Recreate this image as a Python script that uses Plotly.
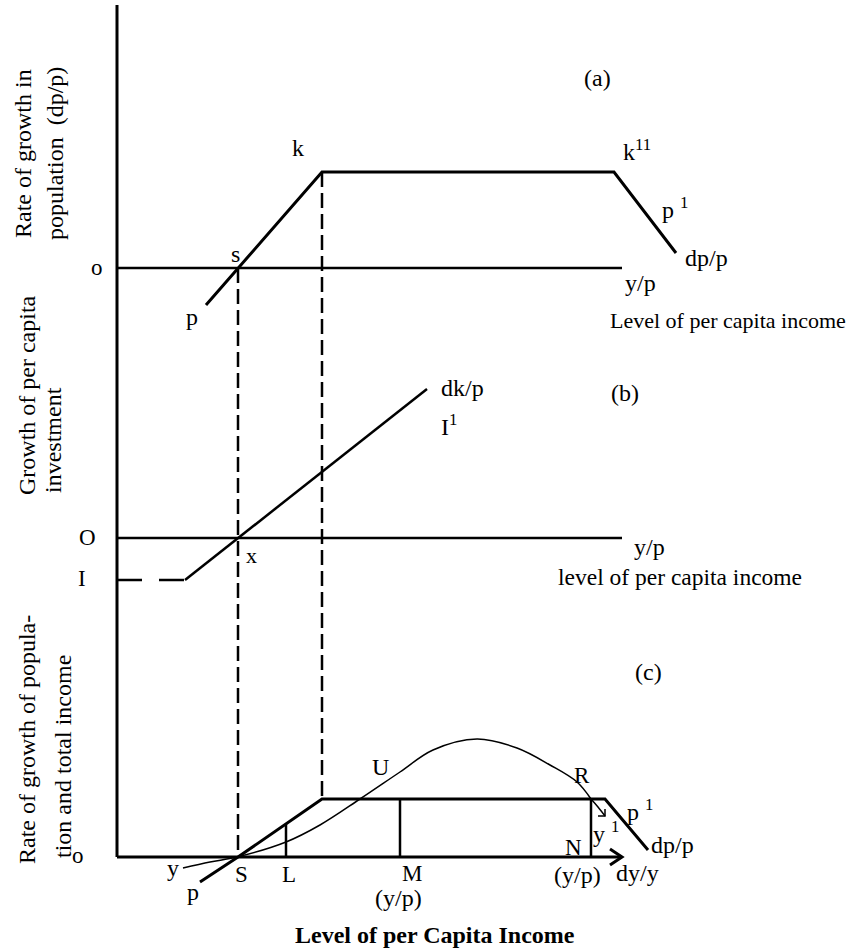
import plotly.graph_objects as go

# ---- diagram values (income on x, growth rates on y; each panel has its own zero line) ----
axis_top = 852            # top of the common vertical axis
axis_len = 505            # length of each panel's income axis
base_a, base_b, base_c = 589, 319, 0   # zero lines of panels (a), (b), (c)

# (a) rate of growth in population dp/p
pop_x = [89, 121, 205, 497, 559]
pop_y = [-37, 0, 96, 96, 15]

# (b) growth of per capita investment dk/p
inv_floor_x = [0, 68]
inv_floor_y = [-42, -42]
inv_x = [68, 121, 310]
inv_y = [-42, 0, 149]

# (c) population growth and total income growth
popc_x = [83, 121, 205, 488, 531]
popc_y = [-25, 0, 58, 58, 7]
inc_x = [66, 93, 120, 169, 203, 243, 283, 316, 360, 400, 433, 460, 474]
inc_y = [-11, -5, 0, 15, 32, 58, 85, 107, 118, 109, 92, 75, 58]
inc_tail_x = [474, 481, 488]
inc_tail_y = [58, 50, 41]
inc_head_x = [481, 488, 488]
inc_head_y = [41, 41, 48]
arrow_x = [493, 505, 493]
arrow_y = [8, 0, -8]

# income levels marked in the diagram
x_S, x_k, x_L, x_M, x_N = 121, 205, 169, 283, 474
plateau_c = 58
plateau_a = 96

FONT = "Liberation Serif"
INK = "black"

fig = go.Figure()


def seg(xs, ys, width=3, dash=None, shape="linear"):
    fig.add_trace(go.Scatter(
        x=xs, y=ys, mode="lines", hoverinfo="skip", showlegend=False,
        line=dict(color=INK, width=width, dash=dash, shape=shape,
                  smoothing=1.0 if shape == "spline" else None),
    ))


# common vertical axis
seg([0, 0], [base_c, axis_top], width=3)

# panel axes
seg([0, axis_len], [base_a, base_a], width=2.5)
seg([0, axis_len], [base_b, base_b], width=2.5)
seg([0, axis_len], [base_c, base_c], width=3)
seg(arrow_x, arrow_y, width=3)

# dashed guides from s and k down through the panels
seg([x_S, x_S], [base_a, base_c], width=2.5, dash="15px,6px")
seg([x_k, x_k], [base_a + plateau_a, base_c + plateau_c], width=2.5, dash="15px,6px")

# (a) dp/p curve
seg(pop_x, [base_a + v for v in pop_y], width=3)

# (b) dk/p line with its dashed floor I
seg(inv_floor_x, [base_b + v for v in inv_floor_y], width=2.5, dash="25px,17px")
seg(inv_x, [base_b + v for v in inv_y], width=2.5)

# (c) dp/p curve and verticals at L, M, N
seg(popc_x, [base_c + v for v in popc_y], width=3)
L_top = (x_L - x_S) * plateau_c / (x_k - x_S)
seg([x_L, x_L], [base_c, base_c + L_top], width=2.5)
seg([x_M, x_M], [base_c, base_c + plateau_c], width=2.5)
seg([x_N, x_N], [base_c, base_c + plateau_c], width=2.5)

# (c) dy/y income growth curve
seg(inc_x, [base_c + v for v in inc_y], width=1.5, shape="spline")
seg(inc_tail_x, inc_tail_y, width=1.5, shape="spline")
seg(inc_head_x, inc_head_y, width=1.5)

# ---- labels ----
labels = [
    # panel (a)
    ("(a)", 480, 779, 24), ("k", 181, 709, 24), ("k<sup>11</sup>", 520, 707, 24),
    ("p <sup>1</sup>", 558, 649, 24), ("dp/p", 589, 599, 24), ("y/p", 523, 574, 24),
    ("Level of per capita income", 611, 537, 22), ("o", -20, 590, 23),
    ("s", 118, 603, 24), ("p", 75, 540, 24),
    # panel (b)
    ("dk/p", 345, 469, 24), ("I<sup>1</sup>", 332, 432, 24), ("(b)", 508, 464, 24),
    ("y/p", 532, 310, 24), ("level of per capita income", 563, 280, 23.5),
    ("O", -30, 320, 23), ("I", -35, 279, 23), ("x", 134, 302, 22),
    # panel (c)
    ("(c)", 531, 185, 24), ("U", 263, 90, 24), ("R", 465, 82, 23),
    ("p <sup>1</sup>", 523, 47, 24), ("y <sup>1</sup>", 489, 25, 24),
    ("N", 456, 10, 23), ("dp/p", 555, 12, 24), ("(y/p)", 460, -18, 24),
    ("dy/y", 520, -16, 24), ("y", 56, -11, 24), ("p", 76, -35, 24),
    ("S", 124, -17, 23), ("L", 172, -17, 23), ("M", 295, -16, 23),
    ("(y/p)", 281, -41, 24), ("o", -39, 2, 23),
]
for text, x, y, size in labels:
    fig.add_annotation(x=x, y=y, text=text, showarrow=False,
                       font=dict(family=FONT, size=size, color=INK),
                       xanchor="center", yanchor="middle")

# rotated axis titles
titles = [
    ("Rate of growth in", -94, 703), ("population  (dp/p)", -62, 703),
    ("Growth of per capita", -90, 462), ("investment", -64, 417),
    ("Rate of growth of popula-", -90, 117), ("tion and total income", -54, 100),
]
for text, x, y in titles:
    fig.add_annotation(x=x, y=y, text=text, showarrow=False, textangle=-90,
                       font=dict(family=FONT, size=24, color=INK),
                       xanchor="center", yanchor="middle")

fig.add_annotation(x=318, y=-78, text="<b>Level of per Capita Income</b>", showarrow=False,
                   font=dict(family=FONT, size=24, color=INK),
                   xanchor="center", yanchor="middle")

fig.update_layout(
    width=854, height=951,
    margin=dict(l=0, r=0, t=0, b=0),
    paper_bgcolor="white", plot_bgcolor="white",
    xaxis=dict(range=[-117, 737], visible=False, fixedrange=True),
    yaxis=dict(range=[-94, 857], visible=False, fixedrange=True),
)

fig.write_html("out.html")
